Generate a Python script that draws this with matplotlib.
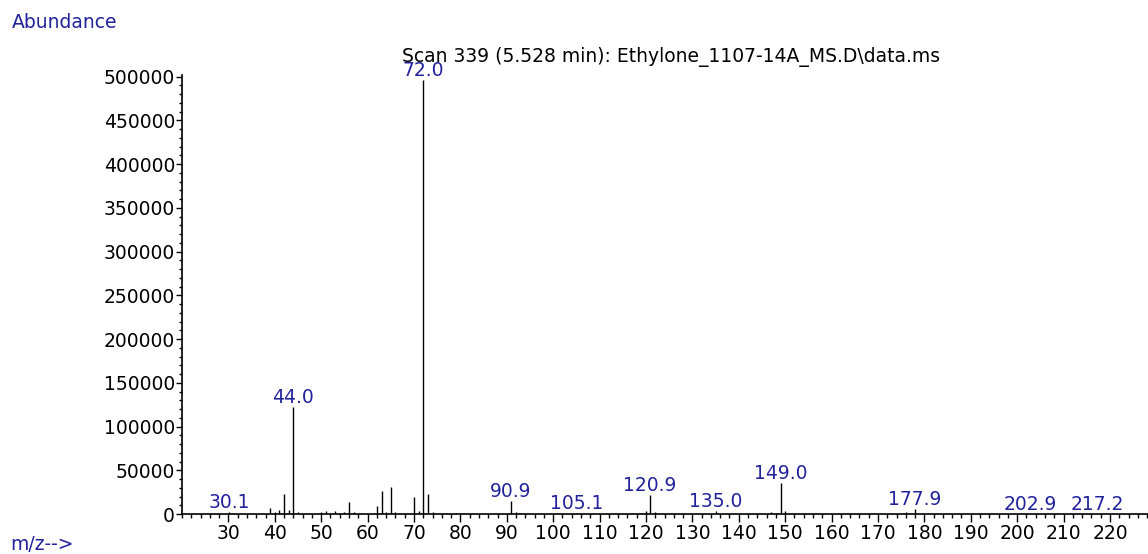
import matplotlib
matplotlib.use("Agg")
import matplotlib.pyplot as plt
from matplotlib.ticker import MultipleLocator

plt.rcParams['font.family'] = 'DejaVu Sans'
plt.rcParams['font.size'] = 13.5

# peaks (m/z, abundance)
mz = [30.1, 31, 39, 40, 41, 42, 43, 44.0, 45, 50, 51, 53, 55, 56, 57,
      62, 63, 64, 65, 66, 70, 71, 72.0, 73, 74, 77, 79,
      90.9, 92, 93, 105.1, 117, 119, 120, 120.9, 122, 135.0,
      147, 148, 149.0, 150, 176, 177.9, 202.9, 217.2]
abundance = [1800, 1000, 6500, 2600, 4500, 22500, 4500, 122000, 1800, 1800, 3800, 3800, 1800, 13300, 1800,
             9200, 26700, 1800, 31300, 1800, 19800, 3800, 496000, 22500, 1800, 1500, 1500,
             14900, 1800, 1200, 600, 1500, 1500, 3800, 21700, 1800, 3400,
             1800, 1000, 36000, 3400, 2800, 5200, 400, 400]
labelled = [30.1, 44.0, 72.0, 90.9, 105.1, 120.9, 135.0, 149.0, 177.9, 202.9, 217.2]

navy = '#22229c'

fig = plt.figure(figsize=(11.48, 5.54), dpi=100)
ax = fig.add_axes([182 / 1148, 1 - 514 / 554, (1148 - 182) / 1148, (514 - 75) / 554])

ax.vlines(mz, 0, abundance, colors='black', linewidth=1.0)

for m, h in zip(mz, abundance):
    if m in labelled:
        ax.annotate(f"{m:.1f}", (m, h), xytext=(0, 0), textcoords='offset points',
                    ha='center', va='bottom', color=navy)

ax.set_xlim(20, 228.2)
ax.set_ylim(0, 502000)
ax.set_xticks(range(30, 230, 10))
ax.set_yticks(range(0, 500001, 50000))
ax.xaxis.set_minor_locator(MultipleLocator(2))
ax.yaxis.set_minor_locator(MultipleLocator(10000))
ax.tick_params(axis='x', which='major', direction='out', length=5.5, width=1, pad=2)
ax.tick_params(axis='x', which='minor', direction='out', length=3, width=1)
ax.tick_params(axis='y', which='major', direction='out', length=4, width=1, pad=1)
ax.tick_params(axis='y', which='minor', direction='out', length=2, width=1)

for s in ['top', 'right']:
    ax.spines[s].set_visible(False)
for s in ['left', 'bottom']:
    ax.spines[s].set_linewidth(1.2)

fig.text(671 / 1148, 1 - 57 / 554, "Scan 339 (5.528 min): Ethylone_1107-14A_MS.D\\data.ms",
         ha='center', va='center')
fig.text(12 / 1148, 1 - 22 / 554, "Abundance", ha='left', va='center', color=navy)
fig.text(10 / 1148, 1 - 545 / 554, "m/z-->", ha='left', va='center', color=navy)

fig.savefig("out.png", dpi=100)
